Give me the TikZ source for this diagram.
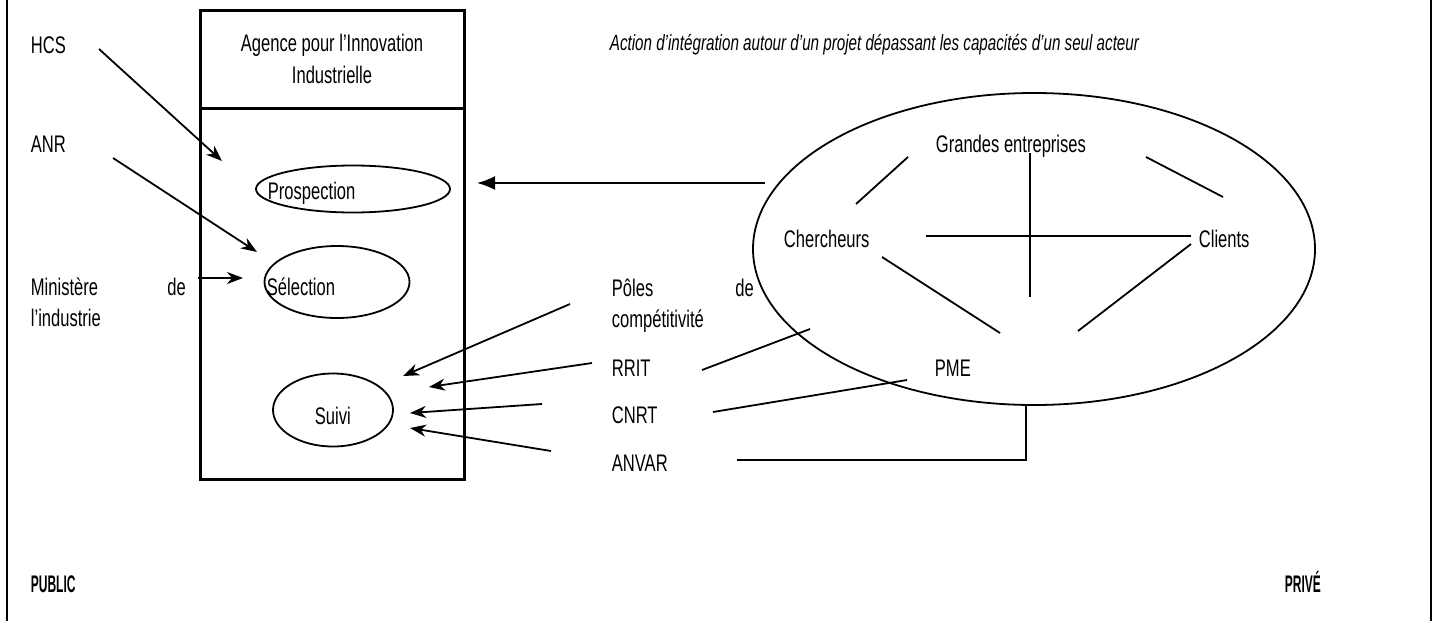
\documentclass[tikz,border=0pt]{standalone}
\usepackage{fontspec}
\setmainfont[FakeStretch=0.69]{Liberation Sans}
\newfontfamily\grasfont[FakeStretch=0.5]{Liberation Sans}
\usetikzlibrary{arrows.meta,shapes.geometric}
\usetikzlibrary{positioning}
\tikzset{
  acteur/.style={
    anchor=base west,
    inner sep=0pt,
    font=\fontsize{12}{15.5}\selectfont,
  },
  bulle/.style={
    ellipse,
    draw=black, line width=0.9pt,
    inner sep=0pt,
  },
  cadre/.style={
    rectangle,
    draw=black, line width=1.5pt,
    outer sep=0pt,
    minimum width=132pt,
  },
  lien/.style={-},
}

\begin{document}
\begin{tikzpicture}[x=0.5pt,y=-0.5pt,line width=0.9pt,
    ->,>={Stealth[length=8pt,width=6pt,inset=2.5pt]}]
  \useasboundingbox (0,0) rectangle (1438,621);
  \draw[lien,line width=1pt] (7,0) -- (7,621) (1431,0) -- (1431,621);

  % secteur public
  \node[cadre, minimum height=49pt, align=center,
    font=\fontsize{12}{16}\selectfont] (aii) at (332,59)
    {Agence pour l’Innovation\\Industrielle};
  \node[cadre, minimum height=185.5pt, below=0pt of aii] (aiibas) {};

  \node[bulle, minimum width=97pt, minimum height=23.5pt] (prosp) at (353,189) {};
  \node[bulle, minimum width=72.5pt, minimum height=36pt] (select) at (337,282) {};
  \node[bulle, minimum width=60pt, minimum height=36.5pt] (suivi) at (333,410) {};
  \node[acteur] (prosptxt) at (267,199) {Prospection};
  \node[acteur] (selecttxt) at (266,295) {Sélection};
  \node[acteur] (suivitxt) at (314,424) {Suivi};

  \node[acteur] (hcs) at (30,53) {HCS};
  \node[acteur] (anr) at (30,152) {ANR};
  \node[acteur, text width=77.5pt, align=left] (minind) at (30,295)
    {Ministère\hfill de\\l’industrie};

  \node[acteur, font=\grasfont\bfseries\fontsize{12}{13}\selectfont] (public) at (30,592) {PUBLIC};

  % secteur prive
  \node[acteur, font=\fontsize{11}{13}\selectfont\itshape] (titre) at (609,50)
    {Action d’intégration autour d’un projet dépassant les capacités d’un seul acteur};

  \node[bulle, minimum width=281pt, minimum height=156pt] (projet) at (1034,249) {};
  \node[acteur] (ge) at (935,152) {Grandes entreprises};
  \node[acteur] (cherch) at (783,247) {Chercheurs};
  \node[acteur] (clients) at (1198,247) {Clients};
  \node[acteur] (pme) at (934,376) {PME};

  \node[acteur, text width=71pt, align=left] (poles) at (611,296)
    {Pôles\hfill de\\compétitivité};
  \node[acteur] (rrit) at (611,376) {RRIT};
  \node[acteur] (cnrt) at (611,423) {CNRT};
  \node[acteur] (anvar) at (611,471) {ANVAR};

  \node[acteur, font=\grasfont\bfseries\fontsize{12}{13}\selectfont] (prive) at (1284,592) {PRIVÉ};

  % extremites des traits
  \path (99,49) coordinate (hcs1)    (222,161) coordinate (hcs2)
        (113,158) coordinate (anr1)  (257,252) coordinate (anr2)
        (198,278) coordinate (min1)  (243,278) coordinate (min2)
        (570,304) coordinate (pol1)  (403,376) coordinate (pol2)
        (592,363) coordinate (rrit1) (429,387) coordinate (rrit2)
        (542,404) coordinate (cnrt1) (410,413) coordinate (cnrt2)
        (551,451) coordinate (anv1)  (410,428) coordinate (anv2)
        (765,183) coordinate (proj1) (477,183) coordinate (proj2)
        (702,370) coordinate (rrit3) (810,329) coordinate (rrit4)
        (713,412) coordinate (cnrt3) (907,380) coordinate (cnrt4)
        (737,460) coordinate (anv3)  (1026,460) coordinate (anv4)
        (1026,404) coordinate (anv5)
        (908,157) coordinate (chge1) (856,204) coordinate (chge2)
        (1146,157) coordinate (gecl1) (1223,197) coordinate (gecl2)
        (1030,153) coordinate (vert1) (1030,297) coordinate (vert2)
        (926,236) coordinate (hori1) (1191,236) coordinate (hori2)
        (882,257) coordinate (chpm1) (1000,333) coordinate (chpm2)
        (1191,244) coordinate (clpm1) (1078,331) coordinate (clpm2);

  \draw (hcs1) -- (hcs2);
  \draw (anr1) -- (anr2);
  \draw (min1) -- (min2);
  \draw (pol1) -- (pol2);
  \draw (rrit1) -- (rrit2);
  \draw (cnrt1) -- (cnrt2);
  \draw (anv1) -- (anv2);
  \draw[-{Latex[length=9pt,width=7pt]}] (proj1) -- (proj2);

  \draw[lien] (rrit3) -- (rrit4);
  \draw[lien] (cnrt3) -- (cnrt4);
  \draw[lien] (anv3) -- (anv4) -- (anv5);
  \draw[lien] (chge1) -- (chge2);
  \draw[lien] (gecl1) -- (gecl2);
  \draw[lien] (vert1) -- (vert2);
  \draw[lien] (hori1) -- (hori2);
  \draw[lien] (chpm1) -- (chpm2);
  \draw[lien] (clpm1) -- (clpm2);
\end{tikzpicture}
\end{document}
